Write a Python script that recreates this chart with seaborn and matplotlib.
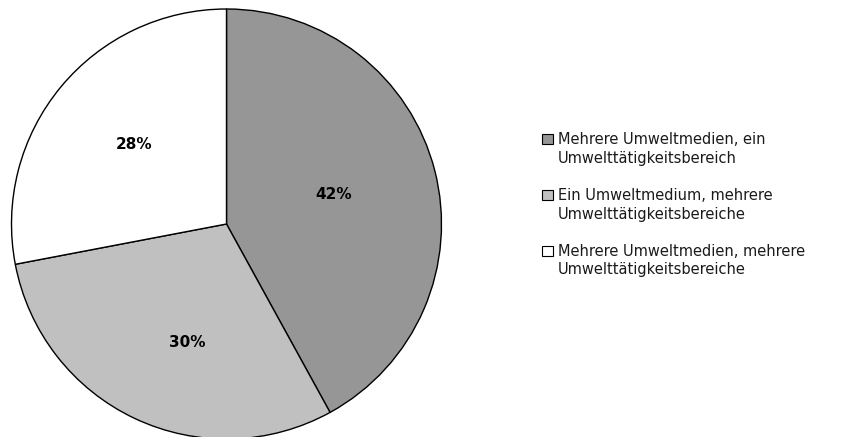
import matplotlib
matplotlib.use("Agg")
import numpy as np
import matplotlib.pyplot as plt
from matplotlib.patches import Patch, Rectangle
from matplotlib.legend_handler import HandlerPatch
import seaborn as sns

categories = [
    "Mehrere Umweltmedien, ein\nUmwelttätigkeitsbereich",
    "Ein Umweltmedium, mehrere\nUmwelttätigkeitsbereiche",
    "Mehrere Umweltmedien, mehrere\nUmwelttätigkeitsbereiche",
]
shares = [42, 30, 28]
slice_colors = ["#969696", "#c0c0c0", "#ffffff"]
# placement of each percentage label: fraction of the radius and
# angular nudge (degrees) away from the wedge bisector
label_radius = [0.515, 0.58, 0.567]
label_nudge = [1.0, 7.0, -1.3]

sns.set_theme(style="white")
plt.rcParams["font.family"] = ["DejaVu Sans"]

W, H, DPI = 858, 437, 100
fig = plt.figure(figsize=(W / DPI, H / DPI), dpi=DPI)

# pie centre and radius in pixels
cx, cy, r = 226.5, 224, 215
ax = fig.add_axes([(cx - r) / W, (H - cy - r) / H, 2 * r / W, 2 * r / H])

wedges, _, autotexts = ax.pie(
    shares,
    colors=slice_colors,
    startangle=90,
    counterclock=False,
    radius=1,
    autopct=lambda p: f"{p:.0f}%",
    pctdistance=0.56,
    wedgeprops=dict(edgecolor="black", linewidth=1.0),
    textprops=dict(fontsize=11, fontweight="bold", color="black"),
)
for w, t, d, nudge in zip(wedges, autotexts, label_radius, label_nudge):
    mid = np.deg2rad((w.theta1 + w.theta2) / 2 + nudge)
    t.set_position((d * np.cos(mid), d * np.sin(mid)))
    w.set_clip_on(False)
ax.set_xlim(-1, 1)
ax.set_ylim(-1, 1)
ax.axis("off")


class TopAlignedSquare(HandlerPatch):
    """Square legend key aligned with the first line of a two-line label."""

    def __init__(self, shift, **kw):
        super().__init__(**kw)
        self.shift = shift

    def create_artists(self, legend, orig_handle, xdescent, ydescent,
                       width, height, fontsize, trans):
        side = min(width, height)
        rect = Rectangle((-xdescent, -ydescent + self.shift), side, side,
                         facecolor=orig_handle.get_facecolor(),
                         edgecolor="black", linewidth=0.8, transform=trans)
        return [rect]


handles = [Patch(facecolor=c, edgecolor="black") for c in slice_colors]
leg = fig.legend(
    handles, categories,
    loc="upper left",
    bbox_to_anchor=(542 / W, 1 - 132 / H),
    frameon=False,
    fontsize=10.5,
    handlelength=0.75,
    handleheight=0.75,
    handletextpad=0.35,
    labelspacing=1.53,
    borderpad=0,
    borderaxespad=0,
    handler_map={Patch: TopAlignedSquare(shift=7.7)},
    labelcolor="#1a1a1a",
)
for t in leg.get_texts():
    t.set_linespacing(1.3)

fig.savefig("out.png", dpi=DPI, facecolor="white")
